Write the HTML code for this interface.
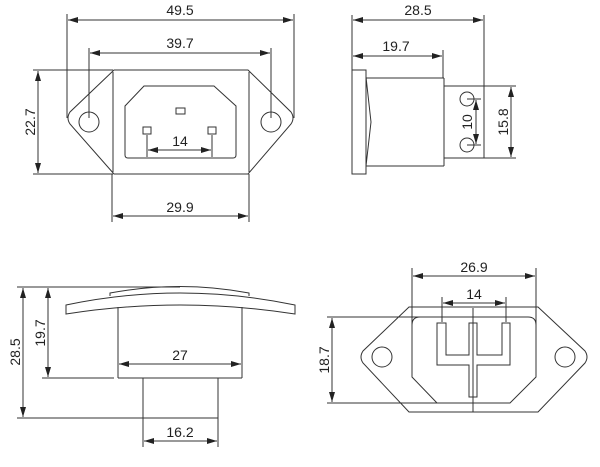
<!DOCTYPE html>
<html><head><meta charset="utf-8"><style>
html,body{margin:0;padding:0;background:#fff;}
svg{display:block;}
text{font-family:"Liberation Sans",sans-serif;font-size:14px;fill:#222;}
</style></head><body>
<svg width="600" height="467" viewBox="0 0 600 467" xmlns="http://www.w3.org/2000/svg">
<defs>
<marker id="a" viewBox="0 0 10 6" refX="10" refY="3" markerWidth="10" markerHeight="6" orient="auto-start-reverse" markerUnits="userSpaceOnUse"><path d="M0,0 L10,3 L0,6 z" fill="#222"/></marker>
</defs>
<g stroke="#333" stroke-width="1" fill="none">
<line x1="67" y1="14" x2="67" y2="118"/>
<line x1="294" y1="14" x2="294" y2="118"/>
<line x1="68" y1="20" x2="293" y2="20" marker-start="url(#a)" marker-end="url(#a)"/>
<line x1="89" y1="48" x2="89" y2="118"/>
<line x1="271" y1="48" x2="271" y2="118"/>
<line x1="90" y1="53" x2="270" y2="53" marker-start="url(#a)" marker-end="url(#a)"/>
<path d="M114,70 L248,70 L291,112 Q295,118 291,124 L248,174 L114,174 L70,124 Q66,118 70,112 Z"/>
<line x1="113" y1="72" x2="113" y2="172"/>
<line x1="249" y1="72" x2="249" y2="172"/>
<circle cx="89" cy="122" r="10"/>
<circle cx="271" cy="122" r="10"/>
<path d="M144,86 L214,86 L236,106 L236,155 Q236,158 233,158 L128,158 Q125,158 125,155 L125,106 Z"/>
<rect x="176" y="108" width="9" height="6"/>
<rect x="143" y="127" width="8" height="7"/>
<rect x="208" y="127" width="8" height="7"/>
<line x1="147" y1="135" x2="147" y2="157"/>
<line x1="212" y1="135" x2="212" y2="157"/>
<line x1="148" y1="150" x2="211" y2="150" marker-start="url(#a)" marker-end="url(#a)"/>
<line x1="33" y1="70" x2="113" y2="70"/>
<line x1="33" y1="174" x2="113" y2="174"/>
<line x1="38" y1="71" x2="38" y2="173" marker-start="url(#a)" marker-end="url(#a)"/>
<line x1="112" y1="174" x2="112" y2="222"/>
<line x1="249" y1="174" x2="249" y2="222"/>
<line x1="113" y1="216" x2="248" y2="216" marker-start="url(#a)" marker-end="url(#a)"/>
<line x1="352" y1="15" x2="352" y2="70"/>
<line x1="484" y1="15" x2="484" y2="158"/>
<line x1="353" y1="20" x2="483" y2="20" marker-start="url(#a)" marker-end="url(#a)"/>
<line x1="443" y1="50" x2="443" y2="78"/>
<line x1="353" y1="56" x2="442" y2="56" marker-start="url(#a)" marker-end="url(#a)"/>
<rect x="352" y="70" width="14" height="104"/>
<path d="M366,77 L371,122 L366,166"/>
<line x1="366" y1="78" x2="444" y2="78"/>
<line x1="366" y1="166" x2="444" y2="166"/>
<line x1="444" y1="78" x2="444" y2="166"/>
<path d="M444,86 L484,86 L484,158 L444,158"/>
<circle cx="467" cy="99" r="7"/>
<circle cx="467" cy="145" r="7"/>
<line x1="467" y1="99" x2="481" y2="99"/>
<line x1="467" y1="145" x2="481" y2="145"/>
<line x1="476" y1="100" x2="476" y2="144" marker-start="url(#a)" marker-end="url(#a)"/>
<line x1="484" y1="86" x2="516" y2="86"/>
<line x1="484" y1="158" x2="516" y2="158"/>
<line x1="511" y1="87" x2="511" y2="157" marker-start="url(#a)" marker-end="url(#a)"/>
<line x1="17" y1="287" x2="180" y2="287"/>
<path d="M110,296 L110,293 Q180,280 249,293 L249,296"/>
<path d="M66,305 Q180,281 295,305 L295,314 Q180,296 66,314 Z"/>
<line x1="118" y1="307" x2="118" y2="378"/>
<line x1="242" y1="307" x2="242" y2="378"/>
<line x1="118" y1="378" x2="242" y2="378"/>
<rect x="143" y="378" width="75" height="40"/>
<line x1="17" y1="418" x2="143" y2="418"/>
<line x1="42" y1="378" x2="114" y2="378"/>
<line x1="23" y1="288" x2="23" y2="417" marker-start="url(#a)" marker-end="url(#a)"/>
<line x1="48" y1="288" x2="48" y2="377" marker-start="url(#a)" marker-end="url(#a)"/>
<line x1="119" y1="364" x2="241" y2="364" marker-start="url(#a)" marker-end="url(#a)"/>
<line x1="143" y1="418" x2="143" y2="447"/>
<line x1="218" y1="418" x2="218" y2="447"/>
<line x1="144" y1="441" x2="217" y2="441" marker-start="url(#a)" marker-end="url(#a)"/>
<line x1="412" y1="268" x2="412" y2="330"/>
<line x1="536" y1="268" x2="536" y2="330"/>
<line x1="413" y1="276" x2="535" y2="276" marker-start="url(#a)" marker-end="url(#a)"/>
<line x1="442" y1="297" x2="442" y2="322"/>
<line x1="506" y1="297" x2="506" y2="322"/>
<line x1="443" y1="303" x2="505" y2="303" marker-start="url(#a)" marker-end="url(#a)"/>
<path d="M409,307 L538,307 L585,351 Q589,357 585,363 L538,412 L409,412 L363,363 Q359,357 363,351 Z"/>
<path d="M420,317 L528,317 Q536,317 536,325 L536,377 L510,403 L437,403 L412,377 L412,325 Q412,317 420,317 Z"/>
<circle cx="382" cy="357" r="10"/>
<circle cx="565" cy="357" r="10"/>
<path d="M437,323 L446,323 L446,355 L469,355 L469,323 L477,323 L477,355 L502,355 L502,323 L510,323 L510,365 L477,365 L477,397 L469,397 L469,365 L437,365 Z"/>
<line x1="473" y1="308" x2="473" y2="412"/>
<line x1="327" y1="317" x2="455" y2="317"/>
<line x1="327" y1="403" x2="455" y2="403"/>
<line x1="332" y1="318" x2="332" y2="402" marker-start="url(#a)" marker-end="url(#a)"/>
</g>
<text x="180" y="15" text-anchor="middle">49.5</text>
<text x="180" y="48" text-anchor="middle">39.7</text>
<text x="180" y="146" text-anchor="middle">14</text>
<text x="180" y="212" text-anchor="middle">29.9</text>
<text transform="translate(35,122) rotate(-90)" text-anchor="middle">22.7</text>
<text x="418" y="15" text-anchor="middle">28.5</text>
<text x="396" y="51" text-anchor="middle">19.7</text>
<text transform="translate(472,122) rotate(-90)" text-anchor="middle">10</text>
<text transform="translate(508,122) rotate(-90)" text-anchor="middle">15.8</text>
<text transform="translate(20,352) rotate(-90)" text-anchor="middle">28.5</text>
<text transform="translate(45,333) rotate(-90)" text-anchor="middle">19.7</text>
<text x="180" y="360" text-anchor="middle">27</text>
<text x="180" y="437" text-anchor="middle">16.2</text>
<text x="474" y="272" text-anchor="middle">26.9</text>
<text x="474" y="299" text-anchor="middle">14</text>
<text transform="translate(329,360) rotate(-90)" text-anchor="middle">18.7</text>
</svg>
</body></html>
